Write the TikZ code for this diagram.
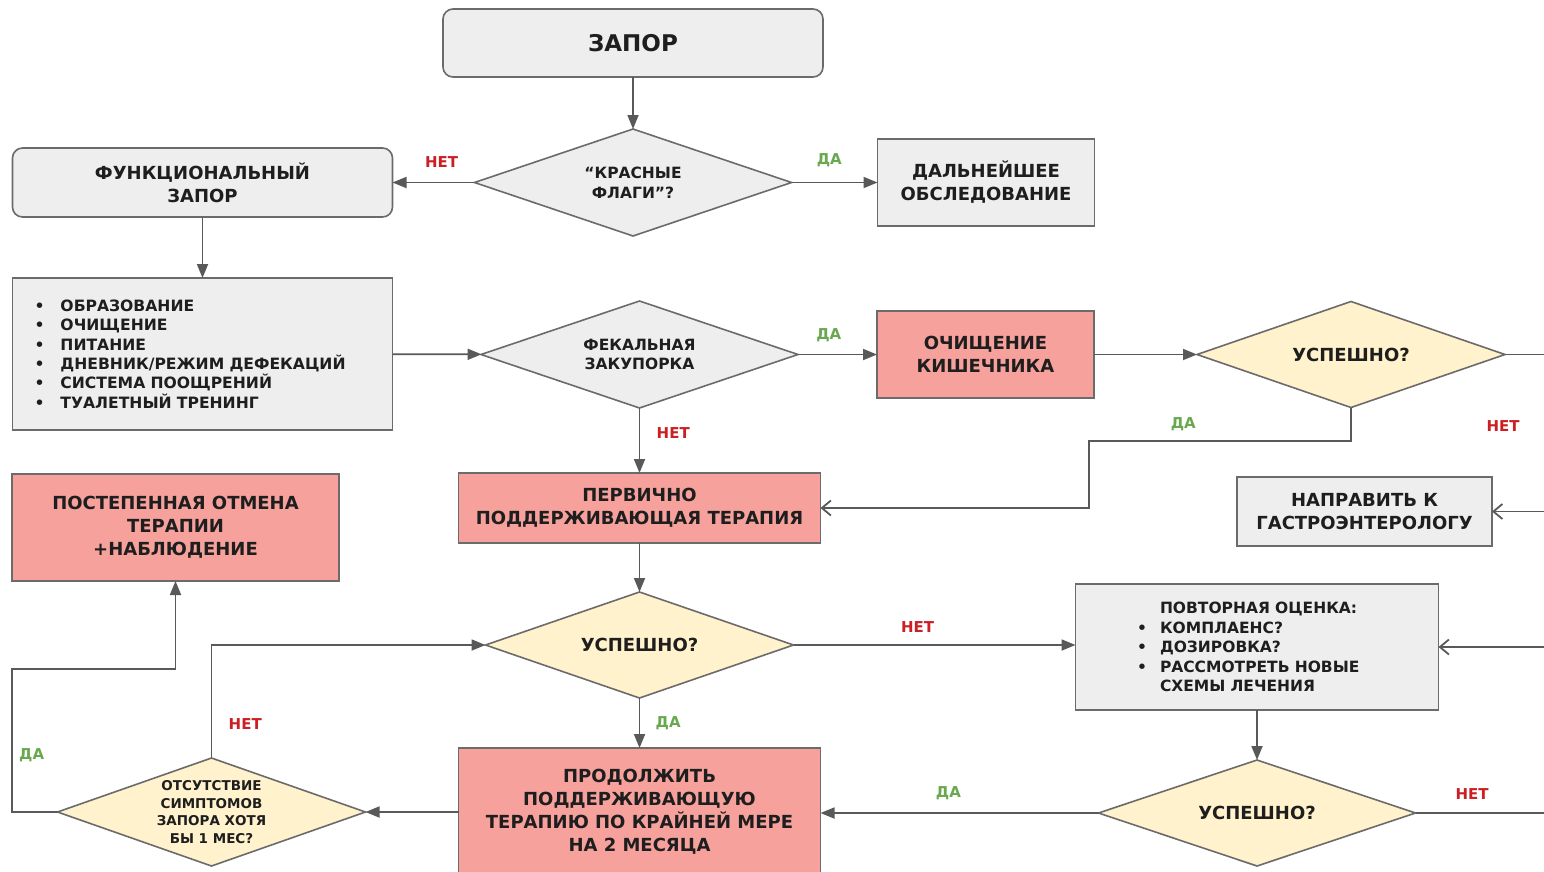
\documentclass[tikz,border=0pt]{standalone}
\usepackage{fontspec}
\setmainfont{DejaVu Sans}
\usepackage{tikz}
\usetikzlibrary{arrows.meta,positioning,shapes.geometric}
\definecolor{panel}{HTML}{EEEEEE}
\definecolor{alert}{HTML}{F6A19C}
\definecolor{query}{HTML}{FFF2CC}
\definecolor{rim}{HTML}{6B6B6B}
\definecolor{wire}{HTML}{595959}
\definecolor{ink}{HTML}{1E1E1E}
\definecolor{nocol}{HTML}{CC1F24}
\definecolor{yescol}{HTML}{6AA84F}
\newcommand{\bul}[1][26pt]{\makebox[#1][l]{\textbullet}}

\begin{document}
\begin{tikzpicture}[x=1pt, y=-1pt,
  box/.style={draw=rim, line width=1.6pt, align=center, text=ink, inner sep=2pt, outer sep=0pt, font=\bfseries\fontsize{18}{23}\selectfont},
  graybox/.style={box, fill=panel},
  redbox/.style={box, fill=alert},
  dia/.style={box, diamond, aspect=3, inner sep=0pt, font=\bfseries\fontsize{15.5}{19.5}\selectfont},
  graydia/.style={dia, fill=panel, minimum width=317pt, minimum height=107pt},
  ask/.style={dia, fill=query, minimum width=308pt, minimum height=106pt, font=\bfseries\fontsize{18}{22}\selectfont},
  nolbl/.style={font=\bfseries\fontsize{15}{18}\selectfont, text=nocol},
  yeslbl/.style={font=\bfseries\fontsize{15}{18}\selectfont, text=yescol},
  flow/.style={draw=wire, line width=1.8pt, -{Triangle[length=14pt, width=11pt]}},
  barb/.style={draw=wire, line width=1.8pt, -{Straight Barb[length=9pt, width=15pt]}},
  tail/.style={draw=wire, line width=1.8pt}
]
\useasboundingbox[fill=white] (0,0) rectangle (1544,871);

% top
\node[graybox, rounded corners=10pt, minimum width=380pt, minimum height=68pt, font=\bfseries\fontsize{23}{28}\selectfont] (zapor) at (633,43) {ЗАПОР};
\node[graydia, below=52pt of zapor] (flags) {“КРАСНЫЕ\\ФЛАГИ”?};
\node[graybox, rounded corners=10pt, minimum width=380pt, minimum height=69pt, left=82pt of flags] (func) {ФУНКЦИОНАЛЬНЫЙ\\ЗАПОР};
\node[graybox, minimum width=217pt, minimum height=87pt, right=86pt of flags] (dalee) {ДАЛЬНЕЙШЕЕ\\ОБСЛЕДОВАНИЕ};

% middle row
\node[graybox, minimum width=380pt, minimum height=152pt, text width=336pt, align=left, below=61pt of func, font=\bfseries\fontsize{15.6}{19.4}\selectfont] (list) {\bul ОБРАЗОВАНИЕ\\ \bul ОЧИЩЕНИЕ\\ \bul ПИТАНИЕ\\ \bul ДНЕВНИК/РЕЖИМ ДЕФЕКАЦИЙ\\ \bul СИСТЕМА ПООЩРЕНИЙ\\ \bul ТУАЛЕТНЫЙ ТРЕНИНГ};
\node[graydia] (fecal) at (639.5,354.5) {ФЕКАЛЬНАЯ\\ЗАКУПОРКА};
\node[redbox, minimum width=217pt, minimum height=87pt, right=79pt of fecal] (ochist) {ОЧИЩЕНИЕ\\КИШЕЧНИКА};
\node[ask, right=103pt of ochist] (usp1) {УСПЕШНО?};

% therapy
\node[redbox, minimum width=362pt, minimum height=70pt, below=65pt of fecal] (perv) {ПЕРВИЧНО\\ПОДДЕРЖИВАЮЩАЯ ТЕРАПИЯ};
\node[redbox, minimum width=327pt, minimum height=107pt] (postep) at (175.5,527.5) {ПОСТЕПЕННАЯ ОТМЕНА\\ТЕРАПИИ\\+НАБЛЮДЕНИЕ};
\node[graybox, minimum width=255pt, minimum height=69pt] (napr) at (1364.5,511.5) {НАПРАВИТЬ К\\ГАСТРОЭНТЕРОЛОГУ};
\node[ask, below=49pt of perv] (usp2) {УСПЕШНО?};
\node[redbox, minimum width=362pt, minimum height=128pt, below=50pt of usp2] (prod) {ПРОДОЛЖИТЬ\\ПОДДЕРЖИВАЮЩУЮ\\ТЕРАПИЮ ПО КРАЙНЕЙ МЕРЕ\\НА 2 МЕСЯЦА};
\node[ask, minimum height=108pt, left=93pt of prod, font=\bfseries\fontsize{13.5}{17.5}\selectfont] (otsut) {ОТСУТСТВИЕ\\СИМПТОМОВ\\ЗАПОРА ХОТЯ\\БЫ 1 МЕС?};
\node[graybox, minimum width=363pt, minimum height=126pt, text width=240pt, align=left, right=282pt of usp2, yshift=-2pt, font=\bfseries\fontsize{15.5}{19.5}\selectfont] (povt) {\hspace*{23pt}ПОВТОРНАЯ ОЦЕНКА:\\ \bul[23pt]КОМПЛАЕНС?\\ \bul[23pt]ДОЗИРОВКА?\\ \bul[23pt]РАССМОТРЕТЬ НОВЫЕ\\ \hspace*{23pt}СХЕМЫ ЛЕЧЕНИЯ};
\node[ask, minimum width=317pt, below=50pt of povt] (usp3) {УСПЕШНО?};

% free ends at the right edge
\coordinate (r1) at (1544,354.5);
\coordinate (r2) at (1544,511.5);
\coordinate (r3) at (povt.east -| r1);
\coordinate (r4) at (usp3.east -| r1);

\draw[flow] (zapor) -- (flags);
\draw[flow] (flags) -- node[nolbl, above=11pt, pos=0.4] (l1) {НЕТ} (func);
\draw[flow] (flags) -- node[yeslbl, above=11pt, pos=0.44] (l2) {ДА} (dalee);
\draw[flow] (func) -- (list);
\draw[flow] (list) -- (fecal);
\draw[flow] (fecal) -- node[yeslbl, above=8pt, pos=0.39] (l3) {ДА} (ochist);
\draw[flow] (fecal) -- node[nolbl, right=13pt, pos=0.38] (l4) {НЕТ} (perv);
\draw[flow] (ochist) -- (usp1);
\draw[tail] (usp1.east) -- (r1);
\draw[barb] (usp1.south) |- node[yeslbl, above=6pt, pos=0.82] (l11) {ДА} (1089,441) |- (perv.east);
\node[nolbl] (l12) at (1503,426) {НЕТ};
\draw[barb] (r2) -- (r2 -| napr.east);
\draw[barb] (r3) -- (povt.east);
\draw[flow] (perv) -- (usp2);
\draw[flow] (usp2.east) -- node[nolbl, above=8pt, pos=0.44] (l5) {НЕТ} (usp2.east -| povt.west);
\draw[flow] (usp2) -- node[yeslbl, right=12pt] (l6) {ДА} (prod);
\draw[flow] (povt) -- (usp3);
\draw[flow] (usp3.west) -- node[yeslbl, above=9pt, pos=0.54] (l7) {ДА} (usp3.west -| prod.east);
\draw[tail] (usp3.east) -- node[nolbl, above=9pt, pos=0.44] (l8) {НЕТ} (r4);
\draw[flow] (prod) -- (otsut);
\draw[flow] (otsut.north) -- node[nolbl, right=13pt, pos=0.3] (l9) {НЕТ} (otsut.north |- usp2.west) -- (usp2.west);
\draw[flow] (otsut.west) -- (otsut.west -| 12,0) -- node[yeslbl, right=3pt, pos=0.4] (l10) {ДА} (12,669) -| (postep.south);
\end{tikzpicture}
\end{document}
